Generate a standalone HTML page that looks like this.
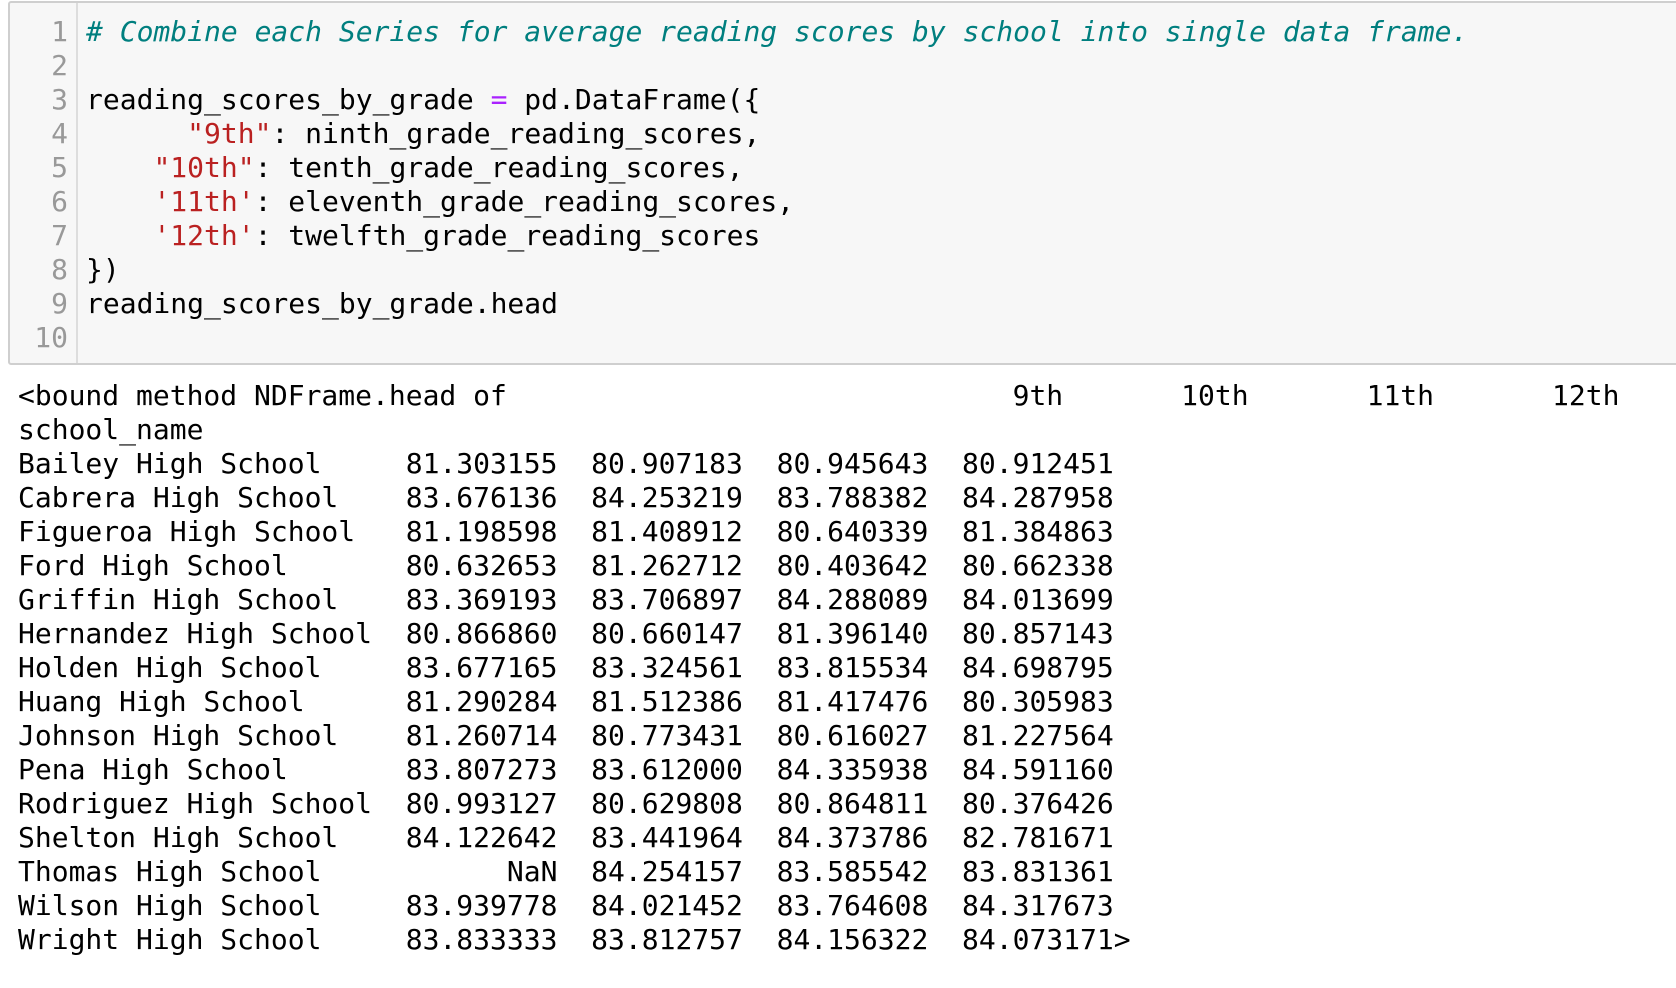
<!DOCTYPE html>
<html><head><meta charset="utf-8">
<style>
html,body{margin:0;padding:0;background:#fff;}
body{width:1676px;height:988px;position:relative;overflow:hidden;font-family:"DejaVu Sans Mono","Liberation Mono",monospace;font-size:28px;}
#code-cell{position:absolute;left:8px;top:1px;width:1680px;height:364px;background:#f7f7f7;border:2px solid #cfcfcf;border-radius:3px;box-sizing:border-box;}
#gutter{position:absolute;left:0;top:0;width:66px;height:100%;border-right:2px solid #dddddd;}
.ln{position:absolute;right:8px;color:#999;line-height:34px;white-space:pre;}
.cl{position:absolute;left:76px;line-height:34px;white-space:pre;color:#000;}
.cm{color:#007f7f;font-style:italic;}
.st{color:#ba2121;}
.op{color:#aa22ff;}
#output{position:absolute;left:18px;top:379px;margin:0;font:inherit;line-height:34px;white-space:pre;color:#000;}
</style></head>
<body>
<div id="code-cell">
  <div id="gutter"></div>
</div>
<pre id="output"></pre>
<script>
const codeLines = [
  '<span class="cm"># Combine each Series for average reading scores by school into single data frame.</span>',
  '',
  'reading_scores_by_grade <span class="op">=</span> pd.DataFrame({',
  '      <span class="st">"9th"</span>: ninth_grade_reading_scores,',
  '    <span class="st">"10th"</span>: tenth_grade_reading_scores,',
  '    <span class="st">\'11th\'</span>: eleventh_grade_reading_scores,',
  '    <span class="st">\'12th\'</span>: twelfth_grade_reading_scores',
  '})',
  'reading_scores_by_grade.head',
  ''
];
const schools = ["Bailey High School","Cabrera High School","Figueroa High School","Ford High School","Griffin High School","Hernandez High School","Holden High School","Huang High School","Johnson High School","Pena High School","Rodriguez High School","Shelton High School","Thomas High School","Wilson High School","Wright High School"];
const grades = ["9th","10th","11th","12th"];
const g9 = ["81.303155","83.676136","81.198598","80.632653","83.369193","80.866860","83.677165","81.290284","81.260714","83.807273","80.993127","84.122642","NaN","83.939778","83.833333"];
const g10 = ["80.907183","84.253219","81.408912","81.262712","83.706897","80.660147","83.324561","81.512386","80.773431","83.612000","80.629808","83.441964","84.254157","84.021452","83.812757"];
const g11 = ["80.945643","83.788382","80.640339","80.403642","84.288089","81.396140","83.815534","81.417476","80.616027","84.335938","80.864811","84.373786","83.585542","83.764608","84.156322"];
const g12 = ["80.912451","84.287958","81.384863","80.662338","84.013699","80.857143","84.698795","80.305983","81.227564","84.591160","80.376426","82.781671","83.831361","84.317673","84.073171"];

const cell = document.getElementById('code-cell');
const gutter = document.getElementById('gutter');
codeLines.forEach((html, i) => {
  const n = document.createElement('div');
  n.className = 'ln';
  n.style.top = (12 + i * 34) + 'px';
  n.textContent = String(i + 1);
  
  
  gutter.appendChild(n);
  const c = document.createElement('div');
  c.className = 'cl';
  c.style.top = (12 + i * 34) + 'px';
  c.innerHTML = html;
  
  
  cell.appendChild(c);
});

const idxW = Math.max(...schools.map(s => s.length));
const cols = [g9, g10, g11, g12];
let header = '<bound method NDFrame.head of ' + ' '.repeat(idxW);
grades.forEach(g => { header += '  ' + g.padStart(9); });
let lines = [header, 'school_name'];
schools.forEach((s, r) => {
  let line = s.padEnd(idxW);
  cols.forEach(col => { line += '  ' + col[r].padStart(9); });
  if (r === schools.length - 1) line += '>';
  lines.push(line);
});
document.getElementById('output').textContent = lines.join('\n');
</script>
</body></html>
